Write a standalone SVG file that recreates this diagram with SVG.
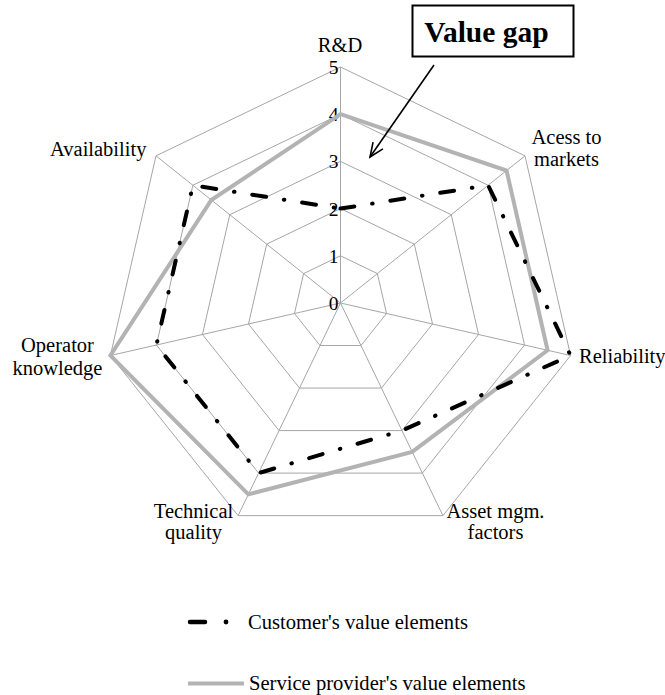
<svg xmlns="http://www.w3.org/2000/svg" width="665" height="695" viewBox="0 0 665 695">
  <defs>
    <style>
      .grid { fill: none; stroke: #a6a6a6; stroke-width: 1; }
      .lbl { font-family: "Liberation Serif", "Times New Roman", serif; font-size: 20.5px; fill: #000; }
      .tick { font-family: "Liberation Serif", "Times New Roman", serif; font-size: 19.5px; fill: #000; text-anchor: end; }
      .mid { text-anchor: middle; }
      .leg { font-family: "Liberation Serif", "Times New Roman", serif; font-size: 20.6px; fill: #000; }
      .cust { fill: none; stroke: #000; stroke-width: 4; stroke-linecap: round; stroke-linejoin: round; stroke-dasharray: 14 18 0.5 18; }
      .serv { fill: none; stroke: #b3b3b3; stroke-width: 4; stroke-linejoin: miter; }
    </style>
    <marker id="openHead" markerUnits="userSpaceOnUse" markerWidth="20" markerHeight="20" refX="15" refY="7" orient="auto">
      <path d="M1,1 L15,7 L1,13" fill="none" stroke="#000" stroke-width="1.6"/>
    </marker>
  </defs>

  <rect width="665" height="695" fill="#fff"/>

  <!-- radar grid: rings 1..5 and spokes -->
  <g id="grid">
    <polygon class="grid" points="340.5,255.8 377.4,273.57 386.52,313.5 360.98,345.53 320.02,345.53 294.48,313.5 303.6,273.57"/>
    <polygon class="grid" points="340.5,208.6 414.3,244.14 432.53,324.01 381.46,388.05 299.54,388.05 248.47,324.01 266.7,244.14"/>
    <polygon class="grid" points="340.5,161.4 451.21,214.71 478.55,334.51 401.94,430.58 279.06,430.58 202.45,334.51 229.79,214.71"/>
    <polygon class="grid" points="340.5,114.2 488.11,185.28 524.57,345.01 422.42,473.1 258.58,473.1 156.43,345.01 192.89,185.28"/>
    <polygon class="grid" points="340.5,67 525.01,155.86 570.59,355.52 442.9,515.63 238.11,515.63 110.42,355.52 155.99,155.86"/>
    <path class="grid" d="M340.5,303 L340.5,67 M340.5,303 L525.01,155.86 M340.5,303 L570.59,355.52 M340.5,303 L442.9,515.63 M340.5,303 L238.11,515.63 M340.5,303 L110.42,355.52 M340.5,303 L155.99,155.86"/>
  </g>

  <!-- scale values on the vertical axis -->
  <g id="scale">
    <text class="tick" x="338.5" y="310">0</text>
    <text class="tick" x="338.5" y="262.8">1</text>
    <text class="tick" x="338.5" y="215.6">2</text>
    <text class="tick" x="338.5" y="168.4">3</text>
    <text class="tick" x="338.5" y="121.2">4</text>
    <text class="tick" x="338.5" y="74">5</text>
  </g>

  <!-- axis labels -->
  <g id="axis-rd"><text class="lbl mid" x="340" y="52">R&amp;D</text></g>
  <g id="axis-access"><text class="lbl mid" x="566.5" y="144">Acess to</text><text class="lbl mid" x="566.5" y="166">markets</text></g>
  <g id="axis-reliability"><text class="lbl" x="579" y="363">Reliability</text></g>
  <g id="axis-asset"><text class="lbl mid" x="495.5" y="518">Asset mgm.</text><text class="lbl mid" x="495.5" y="539">factors</text></g>
  <g id="axis-technical"><text class="lbl mid" x="193.5" y="518">Technical</text><text class="lbl mid" x="193.5" y="539">quality</text></g>
  <g id="axis-operator"><text class="lbl mid" x="57.5" y="352">Operator</text><text class="lbl mid" x="57.5" y="375">knowledge</text></g>
  <g id="axis-availability"><text class="lbl" x="50" y="156">Availability</text></g>

  <!-- data series -->
  <g id="series">
    <polygon id="service-provider" class="serv" points="340.5,114.2 506.56,170.57 547.58,350.26 412.18,451.84 248.34,494.37 110.42,355.52 211.34,200"/>
    <polygon id="customer" class="cust" points="340.5,208.6 488.11,185.28 570.59,355.52 401.94,430.58 258.58,473.1 156.43,345.01 192.89,185.28"/>
  </g>

  <!-- callout -->
  <g id="value-gap">
    <rect x="412.5" y="5.5" width="161" height="51" fill="#fff" stroke="#000" stroke-width="2"/>
    <text x="486.5" y="42" font-family="Liberation Serif, 'Times New Roman', serif" font-size="29.5" font-weight="bold" text-anchor="middle">Value gap</text>
  </g>
  <g id="connectors">
    <line x1="434" y1="65" x2="370" y2="157" stroke="#000" stroke-width="1.6" marker-end="url(#openHead)"/>
  </g>

  <!-- legend -->
  <g id="legend">
    <line x1="190" y1="622" x2="205" y2="622" stroke="#000" stroke-width="4.5" stroke-linecap="round"/>
    <circle cx="226" cy="622" r="2.4" fill="#000"/>
    <text class="leg" x="248" y="629">Customer's value elements</text>
    <line x1="188" y1="683.5" x2="244" y2="683.5" stroke="#b3b3b3" stroke-width="4"/>
    <text class="leg" x="249" y="690">Service provider's value elements</text>
  </g>
</svg>
